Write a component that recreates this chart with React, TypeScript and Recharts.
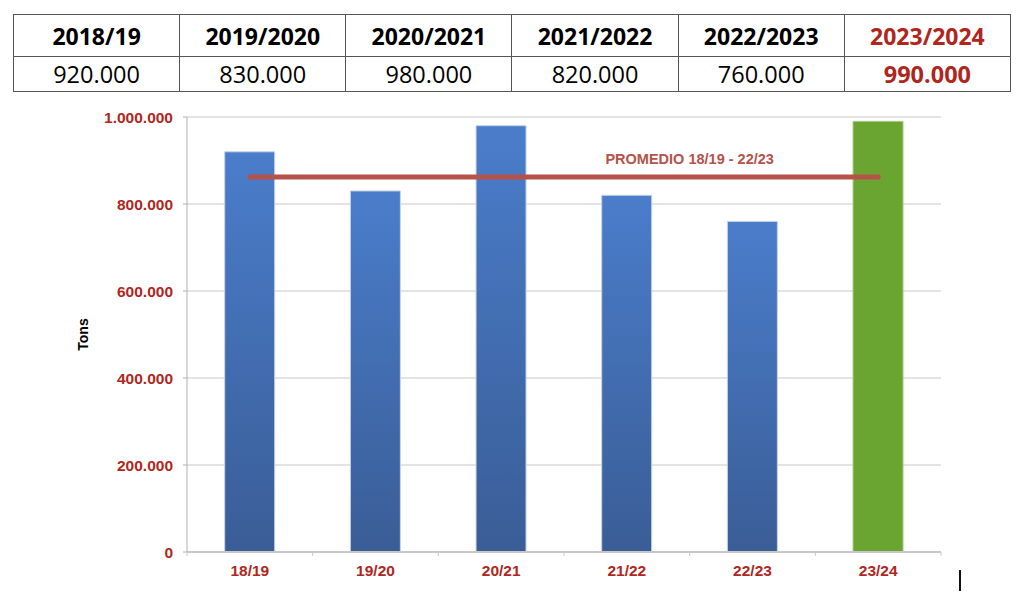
import React from 'react';
import {
  ComposedChart,
  Bar,
  Cell,
  XAxis,
  YAxis,
  CartesianGrid,
  ReferenceLine,
} from 'recharts';

const seasons = ['2018/19', '2019/2020', '2020/2021', '2021/2022', '2022/2023', '2023/2024'];
const categories = ['18/19', '19/20', '20/21', '21/22', '22/23', '23/24'];
const values = [920000, 830000, 980000, 820000, 760000, 990000];
const yTicks = [0, 200000, 400000, 600000, 800000, 1000000];
const average = 862000;
const averageLabel = 'PROMEDIO 18/19 - 22/23';
const yLabel = 'Tons';

const data = categories.map((c, i) => ({ cat: c, value: values[i] }));

const RED = '#b0261c';
const fmt = (v: number) => v.toLocaleString('de-DE');

const PLOT_LEFT = 187;
const PLOT_RIGHT = 941;
const BAND = (PLOT_RIGHT - PLOT_LEFT) / categories.length;

const XTick = (props: any) => {
  const { x, y, payload, index } = props;
  const last = index === categories.length - 1;
  return (
    <g>
      <line x1={x - BAND / 2} x2={x - BAND / 2} y1={y - 8} y2={y - 4} stroke="#c8c8c8" />
      {last && <line x1={x + BAND / 2} x2={x + BAND / 2} y1={y - 8} y2={y - 4} stroke="#c8c8c8" />}
      <text
        x={x}
        y={y + 16}
        textAnchor="middle"
        fill={RED}
        fontFamily="'Liberation Sans', Arial, sans-serif"
        fontWeight="bold"
        fontSize={15.5}
      >
        {payload.value}
      </text>
    </g>
  );
};

const AvgLabel = (props: any) => {
  const vb = props.viewBox || {};
  const x = (vb.x ?? 0) + (vb.width ?? 0) * 0.7;
  const y = (vb.y ?? 0) - 13;
  return (
    <text
      x={x}
      y={y}
      textAnchor="middle"
      fill="#b5524a"
      fontFamily="'Liberation Sans', Arial, sans-serif"
      fontWeight="bold"
      fontSize={14.5}
    >
      {averageLabel}
    </text>
  );
};

const cellBorder = '1px solid #555';

export default function App() {
  return (
    <div style={{ position: 'absolute', left: 0, top: 0, width: 1024, height: 605, background: '#fff' }}>
      <table
        style={{
          position: 'absolute',
          left: 13,
          top: 14,
          width: 998,
          borderCollapse: 'collapse',
          tableLayout: 'fixed',
          fontFamily: "'Open Sans', 'Noto Sans', sans-serif",
        }}
      >
        <tbody>
          <tr style={{ height: 42 }}>
            {seasons.map((s, i) => (
              <td
                key={s}
                style={{
                  border: cellBorder,
                  textAlign: 'center',
                  fontWeight: 700,
                  fontSize: 23,
                  padding: 0,
                  color: i === seasons.length - 1 ? RED : '#000',
                }}
              >
                {s}
              </td>
            ))}
          </tr>
          <tr style={{ height: 35 }}>
            {values.map((v, i) => (
              <td
                key={i}
                style={{
                  border: cellBorder,
                  textAlign: 'center',
                  fontSize: 23.5,
                  padding: 0,
                  fontWeight: i === values.length - 1 ? 700 : 400,
                  color: i === values.length - 1 ? RED : '#000',
                }}
              >
                {fmt(v)}
              </td>
            ))}
          </tr>
        </tbody>
      </table>

      <div style={{ position: 'absolute', left: 0, top: 0 }}>
        <ComposedChart
          width={1024}
          height={605}
          data={data}
          margin={{ top: 117, right: 1024 - PLOT_RIGHT, bottom: 23, left: PLOT_LEFT - 100 }}
          barCategoryGap="30%"
        >
          <defs>
            <linearGradient id="blueGrad" x1="0" y1="0" x2="0" y2="1">
              <stop offset="0%" stopColor="#4a7dcb" />
              <stop offset="100%" stopColor="#3a5d96" />
            </linearGradient>
          </defs>
          <CartesianGrid vertical={false} stroke="#c8c8c8" />
          <XAxis
            dataKey="cat"
            height={30}
            axisLine={{ stroke: '#c8c8c8', strokeWidth: 2 }}
            tickLine={false}
            tick={<XTick />}
            interval={0}
          />
          <YAxis
            width={100}
            domain={[0, 1000000]}
            ticks={yTicks}
            tickFormatter={fmt}
            axisLine={{ stroke: '#b0b0b0' }}
            tickLine={{ stroke: '#b0b0b0' }}
            tickSize={4}
            tickMargin={10}
            tick={{
              fill: RED,
              fontFamily: "'Liberation Sans', Arial, sans-serif",
              fontWeight: 'bold',
              fontSize: 15.5,
            }}
            label={{
              value: yLabel,
              angle: -90,
              position: 'insideLeft',
              offset: -2,
              dx: -2,
              style: {
                fill: '#000',
                fontFamily: "'Liberation Sans', Arial, sans-serif",
                fontWeight: 'bold',
                fontSize: 14,
                textAnchor: 'middle',
              },
            }}
          />
          <Bar dataKey="value" isAnimationActive={false} stroke="#c9d2e3" strokeWidth={1}>
            {data.map((d, i) => (
              <Cell
                key={d.cat}
                fill={i === data.length - 1 ? '#6aa431' : 'url(#blueGrad)'}
                stroke={i === data.length - 1 ? '#a9cc88' : '#c9d2e3'}
              />
            ))}
          </Bar>
          <ReferenceLine
            segment={[
              { x: categories[0], y: average },
              { x: categories[categories.length - 1], y: average },
            ]}
            stroke="#b5524a"
            strokeWidth={5}
            strokeLinecap="round"
            label={<AvgLabel />}
          />
        </ComposedChart>
      </div>
      <div style={{ position: 'absolute', left: 959, top: 570, width: 1.5, height: 21, background: '#111' }} />
    </div>
  );
}
